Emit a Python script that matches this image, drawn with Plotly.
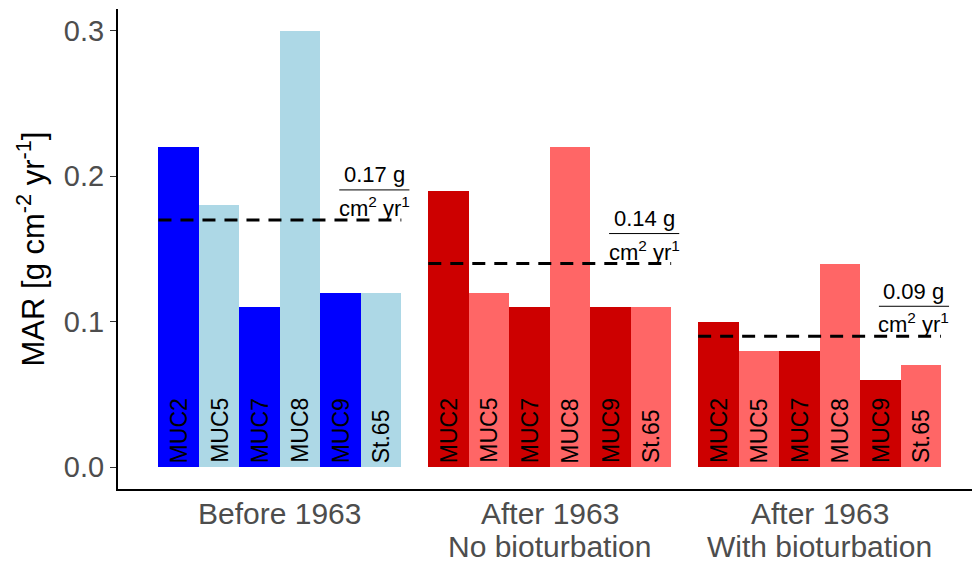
import plotly.graph_objects as go

# Mass accumulation rates per core, for three scenarios
group_line1 = ["Before 1963", "After 1963", "After 1963"]
group_line2 = ["", "No bioturbation", "With bioturbation"]
cores = ["MUC2", "MUC5", "MUC7", "MUC8", "MUC9", "St.65"]
mar_before = [0.22, 0.18, 0.11, 0.30, 0.12, 0.12]
mar_after_nobio = [0.19, 0.12, 0.11, 0.22, 0.11, 0.11]
mar_after_bio = [0.10, 0.08, 0.08, 0.14, 0.06, 0.07]
group_means = [0.17, 0.14, 0.09]
mean_labels = ["0.17 g", "0.14 g", "0.09 g"]
y_ticks = [0.0, 0.1, 0.2, 0.3]

series = [mar_before, mar_after_nobio, mar_after_bio]
palettes = [["#0000FF", "#ADD8E6"], ["#CD0000", "#FF6666"], ["#CD0000", "#FF6666"]]

FONT = "Liberation Sans, Arial"
bar_w = 0.15
fig = go.Figure()
annotations = []
shapes = []

for g, (vals, pal) in enumerate(zip(series, palettes), start=1):
    xs = [g + (i - 2.5) * bar_w for i in range(len(cores))]
    cols = [pal[i % 2] for i in range(len(cores))]
    fig.add_trace(go.Bar(x=xs, y=vals, width=bar_w, marker=dict(color=cols, line=dict(width=0)),
                         showlegend=False, hoverinfo="y"))
    for x, name in zip(xs, cores):
        annotations.append(dict(x=x, y=0, xref="x", yref="y", text=name, textangle=-90,
                                showarrow=False, yanchor="bottom", xanchor="center", yshift=2,
                                font=dict(size=23, color="black", family=FONT)))
    m = group_means[g - 1]
    # dashed mean line across the group
    shapes.append(dict(type="line", xref="x", yref="y", x0=g - 0.45, x1=g + 0.45, y0=m, y1=m,
                       line=dict(color="black", width=3, dash="13px,9px")))
    # fraction label: value over unit
    cx = g + 0.35
    annotations.append(dict(x=cx, y=m, xref="x", yref="y", text=mean_labels[g - 1], showarrow=False,
                            yshift=45, xanchor="center", yanchor="middle",
                            font=dict(size=22, color="black", family=FONT)))
    annotations.append(dict(x=cx, y=m, xref="x", yref="y", text="cm<sup>2</sup> yr<sup>1</sup>",
                            showarrow=False, yshift=13, xanchor="center", yanchor="middle",
                            font=dict(size=22, color="black", family=FONT)))
    shapes.append(dict(type="line", xref="x", yref="y", x0=cx - 0.13, x1=cx + 0.13,
                       ysizemode="pixel", yanchor=m, y0=30, y1=30,
                       line=dict(color="black", width=1)))
    # category label below the axis (one or two lines)
    annotations.append(dict(x=g, y=0, xref="x", yref="paper", text=group_line1[g - 1],
                            showarrow=False, xanchor="center", yanchor="middle", yshift=-24,
                            font=dict(size=30, color="#4D4D4D", family=FONT)))
    if group_line2[g - 1]:
        annotations.append(dict(x=g, y=0, xref="x", yref="paper", text=group_line2[g - 1],
                                showarrow=False, xanchor="center", yanchor="middle", yshift=-57,
                                font=dict(size=30, color="#4D4D4D", family=FONT)))

fig.update_layout(
    width=972, height=563,
    margin=dict(l=118, r=0, t=9, b=74),
    plot_bgcolor="white", paper_bgcolor="white",
    font=dict(family=FONT, color="#4D4D4D"),
    annotations=annotations, shapes=shapes,
    bargap=0,
    xaxis=dict(range=[0.4, 3.565], showticklabels=False, ticks="",
               showline=True, linecolor="black", linewidth=2, showgrid=False, zeroline=False),
    yaxis=dict(range=[-0.015, 0.315], tickvals=y_ticks,
               ticktext=[f"{v:.1f}" for v in y_ticks],
               showline=True, linecolor="black", linewidth=2, ticks="outside", ticklen=6,
               tickcolor="#333333", tickfont=dict(size=29, color="#4D4D4D"), showgrid=False,
               zeroline=False,
               title=dict(text="MAR [g cm<sup>-2</sup> yr<sup>-1</sup>]", standoff=10,
                          font=dict(size=31, color="black"))),
)

fig.write_html("out.html")
